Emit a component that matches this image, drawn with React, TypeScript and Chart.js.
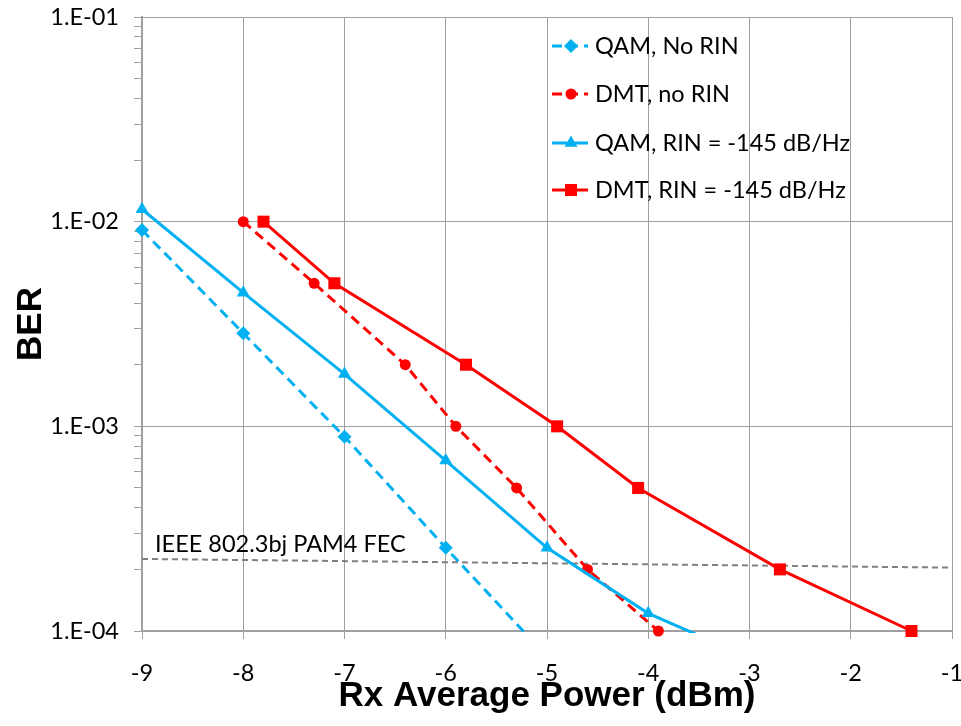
import React, { useEffect, useRef } from "react";
import { Chart, registerables } from "chart.js";

Chart.register(...registerables);

// ---- Data ----
const seriesNames = [
  "QAM, No RIN",
  "DMT, no RIN",
  "QAM, RIN = -145 dB/Hz",
  "DMT, RIN = -145 dB/Hz",
];

const qamNoRinX = [-9, -8, -7, -6, -5];
const qamNoRinY = [9.1e-3, 2.85e-3, 8.9e-4, 2.55e-4, 7.5e-5];

const dmtNoRinX = [-8, -7.3, -6.4, -5.9, -5.3, -4.6, -3.9];
const dmtNoRinY = [1e-2, 5e-3, 2e-3, 1e-3, 5e-4, 2e-4, 1e-4];

const qamRinX = [-9, -8, -7, -6, -5, -4, -3];
const qamRinY = [1.15e-2, 4.5e-3, 1.8e-3, 6.8e-4, 2.55e-4, 1.22e-4, 7.4e-5];

const dmtRinX = [-7.8, -7.1, -5.8, -4.9, -4.1, -2.7, -1.4];
const dmtRinY = [1e-2, 5e-3, 2e-3, 1e-3, 5e-4, 2e-4, 1e-4];

const fecLabel = "IEEE 802.3bj PAM4 FEC";
const fecX = [-9, -1];
const fecY = [2.25e-4, 2.04e-4];

const xTicks = [-9, -8, -7, -6, -5, -4, -3, -2, -1];
const yDecades = [1e-4, 1e-3, 1e-2, 1e-1];
const yMinorMultipliers = [2, 3, 4, 5, 6, 7, 8, 9];

const xTitle = "Rx Average Power (dBm)";
const yTitle = "BER";

// ---- Styles ----
const CYAN = "#00B0F0";
const RED = "#FF0000";
const GRID = "#A0A0A0";
const TICK_FONT = { family: "Lato, 'Open Sans', sans-serif", size: 23.5 };
const TITLE_FONT = { family: "'Liberation Sans', Arial, sans-serif", size: 35, weight: "bold" as const };

const toPts = (xs: number[], ys: number[]) => xs.map((x, i) => ({ x, y: ys[i] }));

const yTickValues: number[] = [];
yDecades.forEach((d, i) => {
  yTickValues.push(d);
  if (i < yDecades.length - 1) yMinorMultipliers.forEach((m) => yTickValues.push(d * m));
});
yTickValues.sort((a, b) => a - b);

const isDecade = (v: number) => Math.abs(Math.log10(v) - Math.round(Math.log10(v))) < 1e-6;
const fmtSci = (v: number) => {
  const e = Math.round(Math.log10(v));
  return "1.E" + (e < 0 ? "-" : "+") + String(Math.abs(e)).padStart(2, "0");
};

function drawMarker(ctx: CanvasRenderingContext2D, style: string, x: number, y: number, r: number, color: string) {
  ctx.save();
  ctx.fillStyle = color;
  ctx.beginPath();
  if (style === "rectRot") {
    ctx.moveTo(x, y - r);
    ctx.lineTo(x + r, y);
    ctx.lineTo(x, y + r);
    ctx.lineTo(x - r, y);
  } else if (style === "circle") {
    ctx.arc(x, y, r, 0, Math.PI * 2);
  } else if (style === "triangle") {
    const a = r * Math.sqrt(3);
    ctx.moveTo(x, y - r);
    ctx.lineTo(x + a / 2, y + r / 2);
    ctx.lineTo(x - a / 2, y + r / 2);
  } else {
    const s = Math.SQRT1_2 * r;
    ctx.rect(x - s, y - s, 2 * s, 2 * s);
  }
  ctx.closePath();
  ctx.fill();
  ctx.restore();
}

const overlayPlugin = {
  id: "overlay",
  afterDatasetsDraw(chart: any) {
    const ctx: CanvasRenderingContext2D = chart.ctx;
    const { left, top } = chart.chartArea;
    // FEC label
    ctx.save();
    ctx.font = `${TICK_FONT.size}px ${TICK_FONT.family}`;
    ctx.fillStyle = "#000";
    ctx.textBaseline = "alphabetic";
    ctx.textAlign = "left";
    ctx.fillText(fecLabel, left + 13, top + 535);
    ctx.restore();
    // Legend
    const lx0 = 552;
    const lx1 = 588;
    const rowY = [46, 94, 143, 190];
    chart.data.datasets.slice(0, 4).forEach((ds: any, i: number) => {
      const y = rowY[i];
      ctx.save();
      ctx.strokeStyle = ds.borderColor;
      ctx.lineWidth = ds.borderWidth;
      ctx.setLineDash(ds.borderDash || []);
      ctx.beginPath();
      ctx.moveTo(lx0, y);
      ctx.lineTo(lx1, y);
      ctx.stroke();
      ctx.restore();
      drawMarker(ctx, ds.pointStyle, (lx0 + lx1) / 2 + 1, y, ds.pointRadius, ds.pointBackgroundColor);
      ctx.save();
      ctx.font = `${TICK_FONT.size}px ${TICK_FONT.family}`;
      ctx.fillStyle = "#000";
      ctx.textBaseline = "middle";
      ctx.textAlign = "left";
      ctx.fillText(ds.label, 595, y);
      ctx.restore();
    });
  },
};

export default function App() {
  const canvasRef = useRef<HTMLCanvasElement | null>(null);

  useEffect(() => {
    if (!canvasRef.current) return;
    const clipQ = { left: 12, top: 12, right: 12, bottom: 2 };
    const clipD = { left: 12, top: 12, right: 12, bottom: 12 };
    const chart = new Chart(canvasRef.current, {
      type: "line",
      data: {
        datasets: [
          {
            label: seriesNames[0],
            data: toPts(qamNoRinX, qamNoRinY),
            borderColor: CYAN,
            backgroundColor: CYAN,
            pointBackgroundColor: CYAN,
            pointBorderWidth: 0,
            borderWidth: 3,
            borderDash: [10, 6],
            pointStyle: "rectRot",
            pointRadius: 7,
            order: 4,
            clip: clipQ,
          },
          {
            label: seriesNames[1],
            data: toPts(dmtNoRinX, dmtNoRinY),
            borderColor: RED,
            backgroundColor: RED,
            pointBackgroundColor: RED,
            pointBorderWidth: 0,
            borderWidth: 3,
            borderDash: [10, 6],
            pointStyle: "circle",
            pointRadius: 5.5,
            order: 3,
            clip: clipD,
          },
          {
            label: seriesNames[2],
            data: toPts(qamRinX, qamRinY),
            borderColor: CYAN,
            backgroundColor: CYAN,
            pointBackgroundColor: CYAN,
            pointBorderWidth: 0,
            borderWidth: 3,
            pointStyle: "triangle",
            pointRadius: 7.5,
            order: 2,
            clip: clipQ,
          },
          {
            label: seriesNames[3],
            data: toPts(dmtRinX, dmtRinY),
            borderColor: RED,
            backgroundColor: RED,
            pointBackgroundColor: RED,
            pointBorderWidth: 0,
            borderWidth: 3,
            pointStyle: "rect",
            pointRadius: 8.5,
            order: 1,
            clip: clipD,
          },
          {
            label: fecLabel,
            data: toPts(fecX, fecY),
            borderColor: "#808080",
            borderWidth: 2,
            borderDash: [6, 4],
            pointRadius: 0,
            order: 10,
          },
        ],
      },
      options: {
        animation: false,
        responsive: false,
        devicePixelRatio: 1,
        layout: { padding: { top: 17, right: 9, bottom: 0, left: 0 } },
        plugins: { legend: { display: false }, tooltip: { enabled: false } },
        elements: { line: { tension: 0 } },
        scales: {
          x: {
            type: "linear",
            min: -9,
            max: -1,
            afterFit: (s: any) => {
              s.height = 95;
              s.paddingLeft = 0;
              s.paddingRight = 0;
            },
            afterBuildTicks: (s: any) => {
              s.ticks = xTicks.map((v) => ({ value: v }));
            },
            ticks: {
              font: TICK_FONT,
              color: "#000",
              padding: 20,
              maxRotation: 0,
              autoSkip: false,
              callback: (v: any) => String(v),
            },
            grid: { color: GRID, lineWidth: 1, tickLength: 8, tickColor: GRID },
            border: { color: GRID, width: 2 },
            title: {
              display: true,
              text: xTitle,
              font: TITLE_FONT,
              color: "#000",
              padding: { top: 0, bottom: 9 },
            },
          },
          y: {
            type: "logarithmic",
            min: 1e-4,
            max: 1e-1,
            afterFit: (s: any) => {
              s.width = 142;
              s.paddingTop = 0;
              s.paddingBottom = 0;
            },
            afterBuildTicks: (s: any) => {
              s.ticks = yTickValues.map((v) => ({ value: v, major: isDecade(v) }));
            },
            ticks: {
              font: TICK_FONT,
              color: "#000",
              padding: 15,
              autoSkip: false,
              callback: (v: any) => (isDecade(Number(v)) ? fmtSci(Number(v)) : ""),
            },
            grid: {
              color: (c: any) => (c.tick && isDecade(c.tick.value) ? GRID : "rgba(0,0,0,0)"),
              tickColor: GRID,
              lineWidth: 1,
              tickLength: 8,
            },
            border: { color: GRID, width: 2 },
            title: {
              display: true,
              text: yTitle,
              font: TITLE_FONT,
              color: "#000",
              padding: { top: 10, bottom: 0 },
            },
          },
        },
      } as any,
      plugins: [overlayPlugin],
    });
    return () => chart.destroy();
  }, []);

  return (
    <div style={{ position: "absolute", left: 0, top: 0, width: 961, height: 726, background: "#fff" }}>
      <canvas ref={canvasRef} width={961} height={726} style={{ display: "block" }} />
    </div>
  );
}
